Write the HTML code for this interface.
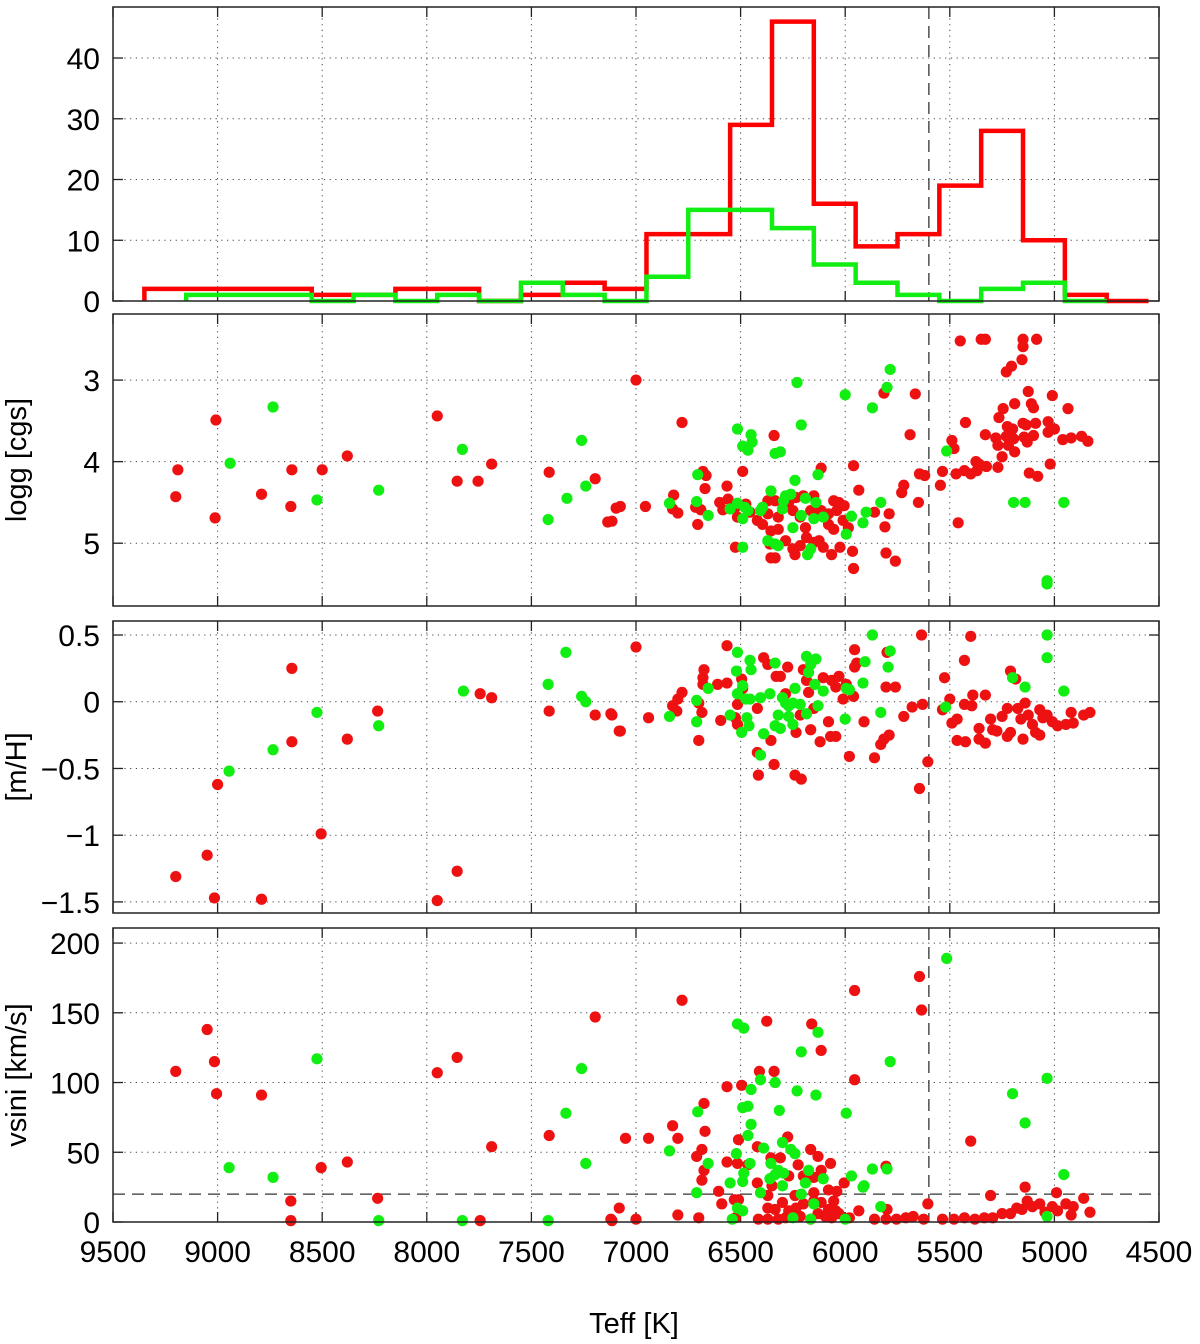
<!DOCTYPE html>
<html><head><meta charset="utf-8"><style>
html,body{margin:0;padding:0;background:#fff;}
svg{display:block;font-family:"Liberation Sans",Arial,sans-serif;}
</style></head><body>
<svg id="chart" width="1200" height="1344" viewBox="0 0 1200 1344" xmlns="http://www.w3.org/2000/svg"></svg>
<script>
// ---------- DATA ----------
const histEdgeStart = 9350; const histBinWidth = 200;
const redCounts = [2,2,2,2,1,1,2,2,0,1,3,2,11,11,29,46,16,9,11,19,28,10,1,0];
const greenCounts = [null,1,1,1,0,1,0,1,0,3,1,0,4,15,15,12,6,3,1,0,2,3,0];
const histTicks = [0,10,20,30,40];
const loggTicks = [3,4,5];
const mhTicks = [0.5,0,-0.5,-1,-1.5];
const mhTickLabels = ["0.5","0","\u22120.5","\u22121","\u22121.5"];
const vsiniTicks = [0,50,100,150,200];
const teffTicks = [9500,9000,8500,8000,7500,7000,6500,6000,5500,5000,4500];
const teffCut = 5600; const vsiniCut = 20;

const redLogg = [[9200,4.43],[9190,4.1],[9008,3.49],[9012,4.69],[8790,4.4],[8645,4.1],[8650,4.55],[8500,4.1],[8380,3.93],[7950,3.44],[7855,4.24],[7755,4.24],[7690,4.03],[7415,4.13],[7195,4.21],[7115,4.73],[7075,4.55],
[7000,3.0],[6780,3.52],[6340,3.68],[5450,2.52],[5350,2.5],[5330,2.5],[5150,2.5],[5085,2.5],[5150,2.59],[5155,2.75],[5205,2.83],[5230,2.9],[5815,3.16],[5665,3.17],[5125,3.14],[5010,3.19],[5190,3.29],[5110,3.29],[5100,3.34],[5245,3.35],[4935,3.35],[5425,3.52],[5265,3.46],[5225,3.57],[5200,3.6],[5150,3.53],[5135,3.55],[5090,3.53],[5030,3.51],[5000,3.6],[5030,3.64],[5690,3.67],[5330,3.67],[5280,3.71],[5230,3.69],[5195,3.72],[5145,3.70],[5100,3.68],[5270,3.80],[5220,3.80],[5130,3.76],[4960,3.73],[4920,3.71],[4870,3.69],[4840,3.75],[5490,3.74],[5480,3.84],[5190,3.88],[5250,3.94],[5375,4.0],[5360,4.03],[5325,4.06],[5370,4.11],[5270,4.07],[5020,4.03],[5120,4.14],[5080,4.18],[5470,4.15],[5430,4.11],[5400,4.15],[5535,4.12],[5545,4.29],[5960,4.05],[6115,4.08],[5645,4.15],[5620,4.17],[5720,4.29],[5730,4.38],[5650,4.5],[5460,4.75],[5935,4.35],[6490,4.12],[6680,4.12],[6665,4.17],[6670,4.33],[6565,4.3],[6820,4.41],[6955,4.55],[7095,4.57],[7135,4.74],[6825,4.58],[6800,4.63],[6715,4.56],[6690,4.59],[6705,4.77],
[6600,4.5],[6585,4.59],[6560,4.46],[6525,4.56],[6475,4.52],[6455,4.62],[6515,4.68],[6420,4.72],[6395,4.77],[6370,4.64],[6355,4.85],[6320,4.83],[6370,4.48],[6335,4.48],[6270,4.5],[6235,4.44],[6200,4.42],[6150,4.42],[6165,4.6],[6130,4.66],[6215,4.68],[6190,4.81],[6115,4.6],[6080,4.64],[6055,4.48],[6030,4.5],[6005,4.54],[6040,4.6],[6010,4.72],[6055,4.83],[5985,4.81],[6080,4.77],
[6525,5.05],[6360,5.01],[6355,5.18],[6335,5.18],[6250,5.07],[6215,5.03],[6240,5.14],[6150,4.99],[6105,5.05],[6065,5.14],[6025,5.05],[5965,5.1],[5960,5.31],[5805,5.12],[5760,5.22],[5860,4.62],[5790,4.64],[5810,4.8],[6125,4.97],[6185,4.93],[6285,4.97],[6320,4.68],[6250,4.6]];
const greenLogg = [[8940,4.02],[8735,3.33],[8525,4.47],[8230,4.35],[7830,3.85],[7420,4.71],[7330,4.45],[7260,3.74],[7240,4.3],
[5785,2.87],[5800,3.09],[6230,3.03],[6000,3.18],[5870,3.34],[6515,3.6],[6450,3.67],[6445,3.76],[6490,3.81],[6465,3.86],[6335,3.9],[6310,3.88],[6210,3.55],[5515,3.87],[6705,4.16],[6130,4.16],[6240,4.23],[6355,4.36],[6285,4.42],[6260,4.4],[6190,4.45],[6140,4.5],[6840,4.51],[6710,4.49],[6655,4.66],[6550,4.58],[6515,4.51],[6480,4.56],[6465,4.6],[6490,4.7],[6405,4.6],[6395,4.56],[6300,4.58],[6295,4.48],[6210,4.66],[6150,4.7],[6105,4.68],[6250,4.81],[5970,4.67],[5900,4.62],[5915,4.75],[5830,4.5],[5995,4.89],[6370,4.97],[6335,5.01],[6320,5.03],[6490,5.05],[6180,5.14],[6165,5.07],[5195,4.5],[5140,4.5],[4955,4.5],[5035,5.46],[5035,5.5]];

const redMh = [[9200,-1.31],[9050,-1.15],[9015,-1.47],[9000,-0.62],[8790,-1.48],[8645,0.25],[8645,-0.30],[8505,-0.99],[8380,-0.28],[8235,-0.07],[7950,-1.49],[7855,-1.27],[7745,0.06],[7690,0.03],[7415,-0.07],[7195,-0.1],[7115,-0.1],[7075,-0.22],
[7000,0.41],[6565,0.42],[7120,-0.09],[7080,-0.22],[6940,-0.12],[6825,-0.03],[6800,0.02],[6780,0.07],[6805,-0.07],[6685,-0.08],[6700,-0.01],[6700,-0.29],[6680,0.13],[6680,0.18],[6675,0.24],[6610,0.13],[6565,0.14],[6595,-0.14],[6525,-0.12],[6515,-0.17],[6495,0.17],[6490,0.1],[6515,-0.02],[6420,-0.05],[6390,0.33],[6370,0.28],[6355,-0.29],[6340,-0.47],[6415,-0.55],[6420,-0.38],[6330,0.19],[6310,0.19],[6275,0.26],[6285,0.06],[6240,-0.55],[6210,-0.58],[6235,-0.23],[6200,0.24],[6185,0.16],[6175,0.07],[6165,-0.21],[6215,-0.1],[6150,-0.05],[6105,0.18],[6120,-0.3],[6080,-0.15],[6070,-0.26],[6045,-0.26],[6065,0.16],[6045,0.11],[6030,0.19],[6010,0.02],[5995,0.13],[5955,0.39],[5955,0.26],[5945,0.29],[5960,0.04],[5980,-0.41],[5910,-0.15],[5860,-0.42],[5830,-0.32],[5815,-0.28],[5790,-0.25],[5800,0.37],[5805,0.11],[5760,0.11],[5720,-0.11],[5680,-0.04],[5630,-0.02],[5635,0.5],[5605,-0.45],[5645,-0.65],[5525,0.18],[5535,-0.06],[5500,0.02],[5490,-0.16],[5465,-0.13],[5430,-0.02],[5395,-0.03],[5390,0.05],[5330,0.05],[5400,0.49],[5430,0.31],[5465,-0.29],[5425,-0.3],[5360,-0.2],[5360,-0.28],[5330,-0.31],[5305,-0.13],[5295,-0.21],[5250,-0.11],[5225,-0.05],[5210,-0.23],[5210,0.23],[5185,0.17],[5175,-0.05],[5140,-0.01],[5160,-0.13],[5125,-0.1],[5105,-0.17],[5090,-0.23],[5070,-0.06],[5055,-0.12],[5035,-0.1],[5010,-0.15],[4985,-0.18],[4945,-0.17],[4910,-0.16],[4920,-0.08],[4860,-0.1],[4830,-0.08],[5150,-0.28],[5070,-0.25],[5225,-0.26],[5275,-0.22]];
const greenMh = [[8945,-0.52],[8735,-0.36],[8525,-0.08],[8230,-0.18],[7825,0.08],[7420,0.13],[7335,0.37],[7260,0.04],[7240,0.0],
[5870,0.5],[5035,0.5],[5035,0.33],[5785,0.38],[6515,0.37],[6455,0.31],[6450,0.24],[6520,0.23],[6335,0.29],[6185,0.34],[6140,0.32],[6165,0.28],[6175,0.22],[5905,0.3],[5795,0.26],[5915,0.14],[5980,0.09],[5995,0.1],[6145,0.13],[6105,0.08],[6240,0.1],[6360,0.06],[6490,0.12],[6515,0.06],[6475,0.02],[6455,0.02],[6405,0.03],[6300,0.03],[6285,-0.01],[6270,-0.03],[6250,-0.01],[6215,-0.02],[6185,-0.09],[6130,-0.03],[6320,-0.1],[6270,-0.11],[6250,-0.17],[6335,-0.18],[6310,-0.2],[6460,-0.18],[6495,-0.23],[6470,-0.12],[6550,-0.1],[6655,0.1],[6710,0.01],[6710,-0.15],[6840,-0.11],[6390,-0.24],[6405,-0.4],[6000,-0.13],[5830,-0.08],[5520,-0.04],[5200,0.18],[5140,0.11],[4955,0.08]];

const redVsini = [[9200,108],[9050,138],[9015,115],[9005,92],[8790,91],[8650,15],[8650,1],[8505,39],[8380,43],[8235,17],[7950,107],[7855,118],[7745,1],[7690,54],[7415,62],[7195,147],[7115,1],[7050,60],
[6780,159],[5955,166],[5645,176],[5635,152],[6375,144],[6160,142],[6115,123],[5955,102],[6410,108],[6340,108],[6565,97],[6495,98],[6675,85],[6825,69],[6800,60],[6940,60],[6670,65],[6685,52],[6710,47],[6675,37],[6685,30],[6510,59],[6420,54],[6275,61],[6165,52],[6130,47],[6355,46],[6310,46],[6225,41],[6070,42],[6565,43],[6515,42],[6465,41],[6420,28],[6350,26],[6270,33],[6200,33],[6150,32],[6115,37],[6080,23],[6040,22],[6005,28],[6150,21],[6605,22],[6590,13],[6530,16],[6510,16],[6370,19],[6300,14],[6240,19],[6200,13],[6150,15],[6115,14],[6055,15],[6080,9],[6045,8],[6370,10],[6335,9],[6270,8],[6235,10],[6215,4],[6130,6],[6095,4],[6065,3],[6030,6],[5980,3],[5935,8],[7080,10],[7120,2],[7000,2],[6800,5],[6700,3],[6525,3],[6415,2],[6370,2],[6320,2],[6285,3],[6165,2],[5805,40],[5800,9],[5860,2],[5805,2],[5755,2],[5710,3],[5675,4],[5625,2],[5605,13],[5535,2],[5480,2],[5430,3],[5380,2],[5335,3],[5295,3],[5250,6],[5210,6],[5180,10],[5155,9],[5130,15],[5105,11],[5070,13],[5045,7],[5010,11],[4985,8],[4945,13],[4910,11],[4920,5],[4860,17],[4830,7],[4990,21],[5140,25],[5305,19],[5400,58]];
const greenVsini = [[8945,39],[8735,32],[8525,117],[8230,1],[7830,1],[7420,1],[7335,78],[7260,110],[7240,42],
[5515,189],[6515,142],[6485,139],[6130,136],[6210,122],[5785,115],[5035,103],[5200,92],[5140,71],[6405,102],[6335,100],[6450,95],[6230,94],[6140,91],[6315,80],[5995,78],[6490,82],[6465,83],[6705,79],[6450,70],[6465,62],[6300,57],[6390,53],[6260,52],[6240,49],[6840,51],[6520,49],[6655,42],[6455,42],[6355,42],[6320,37],[6335,34],[6295,35],[6360,31],[6175,37],[6105,31],[5970,33],[5870,38],[5800,38],[5910,26],[5915,25],[6550,28],[6490,29],[6190,28],[6485,35],[6300,26],[6710,21],[6405,21],[6210,20],[6150,13],[6515,10],[6490,8],[5830,11],[4955,34],[6250,3],[6165,2],[6000,2],[6540,2],[5035,4]];

// ---------- LAYOUT ----------
const NS = "http://www.w3.org/2000/svg";
const svg = document.getElementById('chart');
const X0 = 113, X1 = 1159;
const xScale = t => X0 + (9500 - t) / 5000 * (X1 - X0);
const panels = [
  {name:'histogram-panel', top:7, bottom:301, vTop:48.4, vBot:0},
  {name:'logg-panel', top:314, bottom:606, vTop:2.19, vBot:5.77},
  {name:'metallicity-panel', top:621, bottom:913, vTop:0.605, vBot:-1.583},
  {name:'vsini-panel', top:928, bottom:1222, vTop:210.8, vBot:0}
];
panels.forEach(p => { p.y = v => p.top + (p.vTop - v) / (p.vTop - p.vBot) * (p.bottom - p.top); });

function el(tag, attrs, parent) {
  const e = document.createElementNS(NS, tag);
  for (const k in attrs) e.setAttribute(k, attrs[k]);
  (parent || svg).appendChild(e);
  return e;
}

function drawFrame(p, yTicks, yLabels, showX) {
  const g = el('g', {});
  
  
  const grid = el('g', {stroke:'#444', 'stroke-width':1, 'stroke-dasharray':'1.2,4.5'}, g);
  
  
  teffTicks.slice(1, -1).forEach(t => el('line', {x1:xScale(t), x2:xScale(t), y1:p.top, y2:p.bottom}, grid));
  yTicks.forEach(v => { const yy = p.y(v); if (yy > p.top + 2 && yy < p.bottom - 2) el('line', {x1:X0, x2:X1, y1:yy, y2:yy}, grid); });
  const ticks = el('g', {stroke:'#222', 'stroke-width':1.3}, g);
  teffTicks.forEach(t => { const xx = xScale(t);
    el('line', {x1:xx, x2:xx, y1:p.bottom, y2:p.bottom - 10}, ticks);
    el('line', {x1:xx, x2:xx, y1:p.top, y2:p.top + 10}, ticks); });
  yTicks.forEach(v => { const yy = p.y(v);
    el('line', {x1:X0, x2:X0 + 10, y1:yy, y2:yy}, ticks);
    el('line', {x1:X1, x2:X1 - 10, y1:yy, y2:yy}, ticks); });
  yTicks.forEach((v, i) => {
    const t = el('text', {x:100, y:p.y(v) + 11, 'text-anchor':'end', 'font-size':30, fill:'#000'}, g);
    
    
    t.textContent = yLabels[i];
  });
  if (showX) teffTicks.forEach(tv => {
    const t = el('text', {x:xScale(tv), y:p.bottom + 40, 'text-anchor':'middle', 'font-size':30, fill:'#000'}, g);
    
    
    t.textContent = String(tv);
  });
  return g;
}

function frameBox(p) {
  const r = el('rect', {x:X0, y:p.top, width:X1 - X0, height:p.bottom - p.top, fill:'none', stroke:'#222', 'stroke-width':1.5});
  
  
}

function cutLine(p) {
  const l = el('line', {x1:xScale(teffCut), x2:xScale(teffCut), y1:p.top, y2:p.bottom, stroke:'#333', 'stroke-width':1.3, 'stroke-dasharray':'12,7'});
  
  
}

function histPath(p, counts, color, name) {
  let d = ''; let started = false;
  counts.forEach((c, k) => {
    if (c === null) return;
    const xa = xScale(histEdgeStart - k * histBinWidth), xb = xScale(histEdgeStart - (k + 1) * histBinWidth);
    const yy = p.y(c);
    if (!started) { d += 'M' + xa + ',' + p.y(0) + ' L' + xa + ',' + yy; started = true; }
    else d += ' L' + xa + ',' + yy;
    d += ' L' + xb + ',' + yy;
  });
  const path = el('path', {d:d, fill:'none', stroke:color, 'stroke-width':4.5, 'stroke-linejoin':'miter'});
  
  
}

function scatter(p, data, color, name) {
  const g = el('g', {fill:color});
  
  
  data.forEach(d => {
    const c = el('circle', {cx:xScale(d[0]), cy:p.y(d[1]), r:5.6}, g);
    
    
  });
}

// Panel 1
drawFrame(panels[0], histTicks, histTicks.map(String), false);
cutLine(panels[0]);
histPath(panels[0], redCounts, '#ff0000', 'red-histogram');
histPath(panels[0], greenCounts, '#11ee11', 'green-histogram');
frameBox(panels[0]);
// Panel 2
drawFrame(panels[1], loggTicks, loggTicks.map(String), false);
cutLine(panels[1]);
scatter(panels[1], redLogg, '#ee1111', 'red-logg-points');
scatter(panels[1], greenLogg, '#11ee11', 'green-logg-points');
frameBox(panels[1]);
// Panel 3
drawFrame(panels[2], mhTicks, mhTickLabels, false);
cutLine(panels[2]);
scatter(panels[2], redMh, '#ee1111', 'red-mh-points');
scatter(panels[2], greenMh, '#11ee11', 'green-mh-points');
frameBox(panels[2]);
// Panel 4
drawFrame(panels[3], vsiniTicks, vsiniTicks.map(String), true);
cutLine(panels[3]);
const hl = el('line', {x1:X0, x2:X1, y1:panels[3].y(vsiniCut), y2:panels[3].y(vsiniCut), stroke:'#333', 'stroke-width':1.3, 'stroke-dasharray':'12,7'});


scatter(panels[3], redVsini, '#ee1111', 'red-vsini-points');
scatter(panels[3], greenVsini, '#11ee11', 'green-vsini-points');
frameBox(panels[3]);

// Axis titles
function title(txt, x, y, rot, name) {
  const t = el('text', {x:x, y:y, 'text-anchor':'middle', 'font-size':29, fill:'#000', transform: rot ? 'rotate(-90 ' + x + ' ' + y + ')' : ''});
  
  
  t.textContent = txt;
}
title('Teff [K]', 634, 1333, false, 'x-axis-title');
title('logg [cgs]', 26, 460, true, 'logg-axis-title');
title('[m/H]', 26, 767, true, 'mh-axis-title');
title('vsini [km/s]', 26, 1075, true, 'vsini-axis-title');
</script>
</body></html>
